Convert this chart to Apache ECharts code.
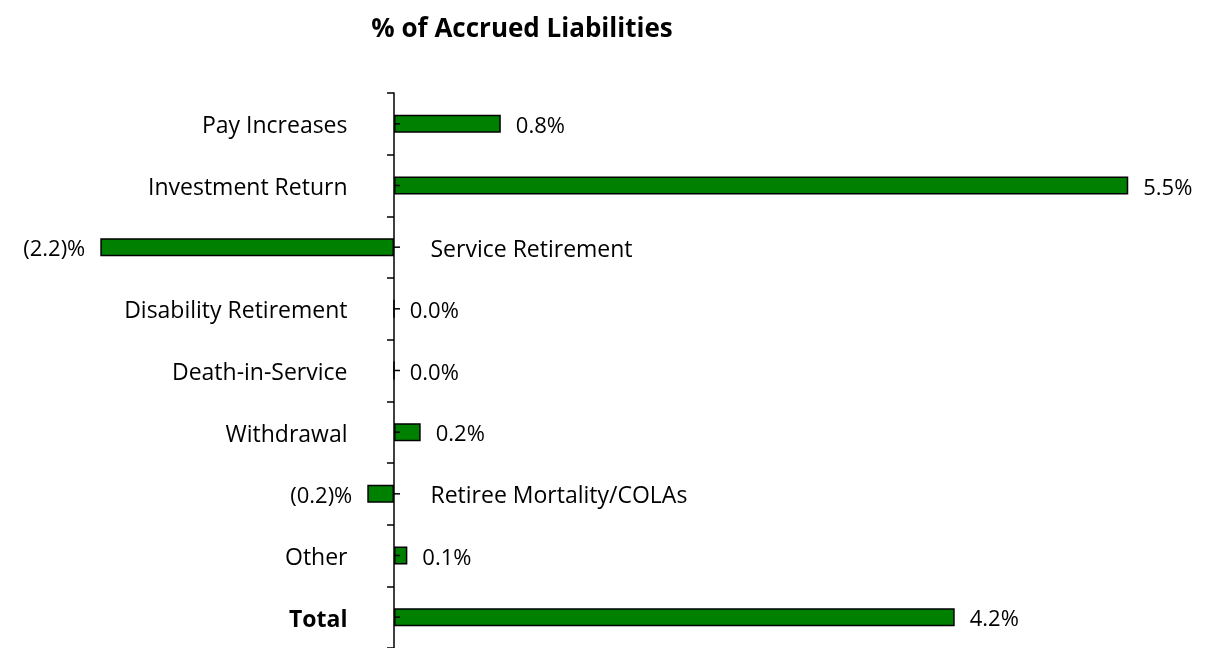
<!DOCTYPE html>
<html>
<head>
<meta charset="utf-8">
<script src="https://cdn.jsdelivr.net/npm/echarts@6/dist/echarts.min.js"></script>
<style>
html,body{margin:0;padding:0;background:#fff;}
#chart{width:1217px;height:648px;}
</style>
</head>
<body>
<div id="chart"></div>
<script>
const titleText = '% of Accrued Liabilities';
const categories = ['Pay Increases', 'Investment Return', 'Service Retirement', 'Disability Retirement', 'Death-in-Service', 'Withdrawal', 'Retiree Mortality/COLAs', 'Other', 'Total'];
const values = [0.8, 5.5, -2.2, 0.0, 0.0, 0.2, -0.2, 0.1, 4.2];
const boldCategories = ['Total'];

const FONT = '"Open Sans"';
const fmt = v => v < 0 ? '(' + Math.abs(v).toFixed(1) + ')%' : v.toFixed(1) + '%';

const barData = values.map(v => ({
  value: v,
  label: { position: v < 0 ? 'left' : 'right' }
}));

const catLabelData = categories.map((c, i) => ({
  value: [0, c],
  label: {
    position: values[i] < 0 ? 'right' : 'left',
    distance: values[i] < 0 ? 36 : 46,
    fontWeight: boldCategories.includes(c) ? 'bold' : 'normal'
  }
}));

const minorTickData = categories.map(c => [0, c]);

const chart = echarts.init(document.getElementById('chart'));
chart.setOption({
  animation: false,
  backgroundColor: '#ffffff',
  title: {
    text: titleText,
    left: 517,
    textAlign: 'center',
    top: 12,
    textStyle: { fontFamily: FONT, fontSize: 26, fontWeight: 'bold', color: '#000' }
  },
  grid: { left: 60.25, right: 22, top: 93, height: 558 },
  xAxis: {
    type: 'value',
    min: -2.5,
    max: 6,
    show: false
  },
  yAxis: {
    type: 'category',
    data: categories,
    inverse: true,
    boundaryGap: true,
    axisLine: { show: true, onZero: true, lineStyle: { color: '#000', width: 1.5 } },
    axisTick: { show: true, length: 7, interval: 0, lineStyle: { color: '#000', width: 1.5 } },
    axisLabel: { show: false },
    splitLine: { show: false }
  },
  series: [
    {
      type: 'bar',
      data: barData,
      barWidth: 18,
      itemStyle: { color: '#008000', borderColor: '#000', borderWidth: 1.5 },
      label: {
        show: true,
        distance: 15,
        offset: [0, 3],
        formatter: p => fmt(p.value),
        fontFamily: FONT,
        fontSize: 22,
        color: '#000'
      },
      silent: true
    },
    {
      type: 'scatter',
      data: minorTickData,
      symbol: 'rect',
      symbolSize: [6, 1.5],
      symbolOffset: [3, 0],
      itemStyle: { color: '#000', opacity: 1 },
      silent: true,
      z: 5
    },
    {
      type: 'scatter',
      data: catLabelData,
      symbolSize: 1,
      itemStyle: { color: 'rgba(0,0,0,0)', opacity: 1 },
      label: {
        show: true,
        offset: [0, 3],
        formatter: p => p.value[1],
        fontFamily: FONT,
        fontSize: 23,
        color: '#000'
      },
      silent: true,
      z: 6
    }
  ]
});
</script>
</body>
</html>
